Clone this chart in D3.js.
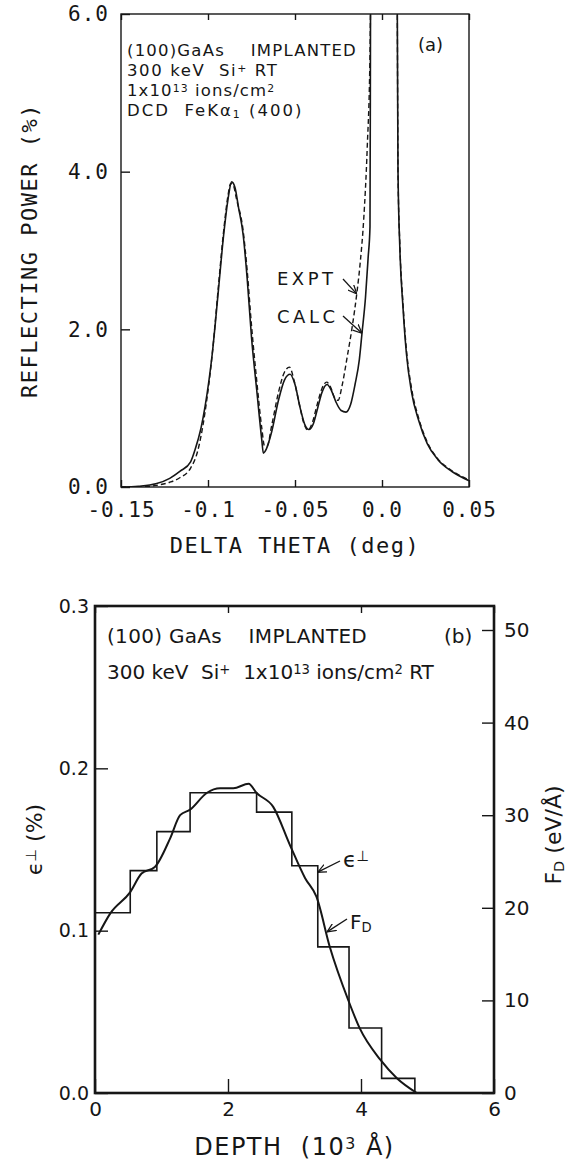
<!DOCTYPE html>
<html>
<head>
<meta charset="utf-8">
<script src="https://cdn.jsdelivr.net/npm/d3@7"></script>
<style>
  body { margin: 0; background: #fff; }
  text { white-space: pre; }
</style>
</head>
<body>
<div id="chart"></div>
<script>
// ---- panel (a): rocking curves, reflecting power (%) vs delta theta (deg)
const thetaCalc = [-0.15, -0.14, -0.13, -0.122, -0.116, -0.11, -0.1075, -0.104, -0.1017, -0.0975,
  -0.094, -0.091, -0.0885, -0.0864, -0.0845, -0.0825, -0.0798, -0.0775, -0.075, -0.072,
  -0.0691, -0.0682, -0.0665, -0.0634, -0.0595, -0.056, -0.0528, -0.05, -0.047, -0.0445,
  -0.042, -0.0395, -0.037, -0.0345, -0.0316, -0.029, -0.0265, -0.0235, -0.0207, -0.018,
  -0.0155, -0.013, -0.0115, -0.0095, -0.008, -0.0069, -0.0066, -0.005, -0.002, 0.001,
  0.004, 0.007, 0.0088, 0.0092, 0.0103, 0.012, 0.014, 0.017, 0.021, 0.026, 0.032, 0.04, 0.05];
const reflCalc = [0.0, 0.01, 0.04, 0.11, 0.2, 0.32, 0.47, 0.75, 1.02, 1.7,
  2.5, 3.2, 3.65, 3.87, 3.8, 3.55, 3.2, 2.65, 1.9, 1.23,
  0.6, 0.43, 0.48, 0.7, 1.1, 1.36, 1.43, 1.3, 1.0, 0.8,
  0.73, 0.8, 1.0, 1.2, 1.3, 1.22, 1.08, 0.97, 0.95, 1.05,
  1.3, 1.62, 1.95, 2.4, 2.9, 3.3, 6, 15, 32, 40,
  32, 15, 6, 4, 3.0, 2.3, 1.7, 1.2, 0.85, 0.55, 0.35, 0.2, 0.08];

const thetaExpt = [-0.15, -0.14, -0.13, -0.122, -0.116, -0.11, -0.106, -0.1017, -0.0975, -0.094,
  -0.091, -0.0885, -0.087, -0.0855, -0.0836, -0.0798, -0.0775, -0.075, -0.072, -0.0691,
  -0.0675, -0.066, -0.0634, -0.0595, -0.0562, -0.0532, -0.0505, -0.0475, -0.0448, -0.0425,
  -0.04, -0.0372, -0.0345, -0.0318, -0.0292, -0.027, -0.0252, -0.023, -0.02, -0.017,
  -0.0145, -0.0125, -0.0105, -0.0085, -0.0069, -0.006, -0.004, -0.001, 0.001, 0.004,
  0.007, 0.0088, 0.0092, 0.0103, 0.012, 0.014, 0.017, 0.021, 0.026, 0.032, 0.04, 0.05];
const reflExpt = [0.0, 0.0, 0.02, 0.06, 0.12, 0.24, 0.45, 0.95, 1.7, 2.55,
  3.25, 3.7, 3.85, 3.83, 3.65, 3.25, 2.75, 2.05, 1.35, 0.75,
  0.52, 0.52, 0.78, 1.2, 1.45, 1.52, 1.35, 1.05, 0.8, 0.72,
  0.82, 1.05, 1.25, 1.33, 1.25, 1.12, 1.1, 1.28, 1.65, 2.05,
  2.45, 2.85, 3.4, 4.3, 5.5, 8, 20, 36, 40, 32,
  15, 6, 4, 3.05, 2.35, 1.75, 1.25, 0.88, 0.57, 0.36, 0.21, 0.09];

const xTicksA = [-0.15, -0.1, -0.05, 0.0, 0.05];
const xTickLabelsA = ["-0.15", "-0.1", "-0.05", "0.0", "0.05"];
const yTicksA = [0, 2, 4, 6];

// ---- panel (b): strain step profile and damage energy vs depth
const stepEdges = [0, 0.53, 0.93, 1.43, 2.43, 2.96, 3.35, 3.82, 4.31, 4.81];
const strainLevels = [0.111, 0.137, 0.161, 0.185, 0.173, 0.140, 0.090, 0.040, 0.009];

const fdDepth = [0.05, 0.23, 0.53, 0.70, 0.90, 1.13, 1.28, 1.43, 1.68, 1.88,
  2.08, 2.31, 2.43, 2.68, 2.93, 3.16, 3.33, 3.53, 3.81, 3.98, 4.29, 4.54, 4.84];
const fdValues = [17.1, 19.4, 21.7, 23.7, 24.4, 27.5, 30.0, 30.6, 32.4, 32.9,
  32.9, 33.4, 32.4, 30.9, 26.8, 23.2, 21.2, 15.8, 10.0, 7.0, 3.6, 1.6, 0.0];

const xTicksB = [0, 2, 4, 6];
const yTicksB = [0, 0.1, 0.2, 0.3];
const yTicksBRight = [0, 10, 20, 30, 40, 50];

const INK = "#161616";
const MONO = "'DejaVu Sans Mono', monospace";
const SANS = "'DejaVu Sans', sans-serif";

const svg = d3.select("#chart").append("svg")
    .attr("width", 574)
    .attr("height", 1160)
    .style("background", "#fff");

svg.append("defs").append("marker")
    .attr("id", "arrow")
    .attr("viewBox", "0 0 10 10")
    .attr("refX", 10)
    .attr("refY", 5)
    .attr("markerWidth", 9)
    .attr("markerHeight", 9)
    .attr("markerUnits", "userSpaceOnUse")
    .attr("orient", "auto")
  .append("path")
    .attr("d", "M0,0.5 L10,5 L0,9.5")
    .attr("fill", "none")
    .attr("stroke", INK)
    .attr("stroke-width", 1.4);

function tidyAxis(g, family, size, spacing) {
    g.select(".domain").remove();
    g.attr("font-family", family).attr("font-size", size).attr("color", INK);
    g.selectAll(".tick line").attr("stroke-width", 1.4);
    if (spacing) g.selectAll("text").style("letter-spacing", `${spacing}px`);
}

// text with super/subscript pieces: parts = [[str, "sup"|"sub"|undefined], ...]
function richText(g, x, y, parts, family, size, opts = {}) {
    const t = g.append("text")
        .attr("x", x).attr("y", y)
        .attr("font-family", family)
        .attr("font-size", size)
        .attr("fill", INK)
        .attr("text-anchor", opts.anchor || "start");
    if (opts.rotate) t.attr("transform", `rotate(${opts.rotate}, ${x}, ${y})`);
    if (opts.spacing) t.style("letter-spacing", `${opts.spacing}px`);
    parts.forEach(([s, kind]) => {
        const ts = t.append("tspan").text(s);
        if (kind === "sup") ts.attr("baseline-shift", "40%").attr("font-size", size * 0.66);
        if (kind === "sub") ts.attr("baseline-shift", "-22%").attr("font-size", size * 0.66);
    });
    return t;
}

// ================= panel (a) =================
const xA = d3.scaleLinear().domain([-0.15, 0.05]).range([121, 469]);
const yA = d3.scaleLinear().domain([0, 6]).range([487, 14]);
const gA = svg.append("g");

gA.append("clipPath").attr("id", "clipA")
  .append("rect")
    .attr("x", xA(-0.15)).attr("y", yA(6))
    .attr("width", xA(0.05) - xA(-0.15))
    .attr("height", yA(0) - yA(6));

const lineA = d3.line()
    .x(d => xA(d[0]))
    .y(d => yA(d[1]))
    .curve(d3.curveMonotoneX);

const curves = gA.append("g").attr("clip-path", "url(#clipA)");
curves.append("path")
    .datum(d3.zip(thetaCalc, reflCalc))
    .attr("d", lineA)
    .attr("fill", "none")
    .attr("stroke", INK)
    .attr("stroke-width", 1.6);
curves.append("path")
    .datum(d3.zip(thetaExpt, reflExpt))
    .attr("d", lineA)
    .attr("fill", "none")
    .attr("stroke", INK)
    .attr("stroke-width", 1.4)
    .attr("stroke-dasharray", "5,3");

gA.append("g")
    .attr("transform", `translate(0, ${yA(0)})`)
    .call(d3.axisBottom(xA).tickValues(xTicksA)
        .tickFormat((d, i) => xTickLabelsA[i])
        .tickSize(-7).tickPadding(15))
    .call(g => tidyAxis(g, MONO, 21, 1));

gA.append("g")
    .attr("transform", `translate(0, ${yA(6)})`)
    .call(d3.axisTop(xA).tickValues(xTicksA).tickFormat("").tickSize(-6))
    .call(g => tidyAxis(g, MONO, 21));

gA.append("g")
    .attr("transform", `translate(${xA(-0.15)}, 0)`)
    .call(d3.axisLeft(yA).tickValues(yTicksA)
        .tickFormat(d3.format(".1f"))
        .tickSize(-9).tickPadding(12))
    .call(g => tidyAxis(g, MONO, 21, 1));

gA.append("rect")
    .attr("x", xA(-0.15)).attr("y", yA(6))
    .attr("width", xA(0.05) - xA(-0.15))
    .attr("height", yA(0) - yA(6))
    .attr("fill", "none")
    .attr("stroke", INK)
    .attr("stroke-width", 1.4);

gA.append("text")
    .attr("transform", `translate(37, ${(yA(0) + yA(6)) / 2}) rotate(-90)`)
    .attr("text-anchor", "middle")
    .attr("font-family", MONO)
    .attr("font-size", 22)
    .style("letter-spacing", "1.5px")
    .attr("fill", INK)
    .text("REFLECTING POWER (%)");

gA.append("text")
    .attr("x", (xA(-0.15) + xA(0.05)) / 2)
    .attr("y", 553)
    .attr("text-anchor", "middle")
    .attr("font-family", MONO)
    .attr("font-size", 22)
    .style("letter-spacing", "1.5px")
    .attr("fill", INK)
    .text("DELTA THETA (deg)");

richText(gA, 127, 56, [["(100)GaAs    IMPLANTED"]], SANS, 16.5, { spacing: 1.2 });
richText(gA, 127, 76, [["300 keV  Si"], ["+", "sup"], [" RT"]], SANS, 16.5, { spacing: 1.6 });
richText(gA, 127, 96, [["1x10"], ["13", "sup"], [" ions/cm"], ["2", "sup"]], SANS, 16.5, { spacing: 1.1 });
richText(gA, 127, 116, [["DCD  FeK\u03b1"], ["1", "sub"], [" (400)"]], SANS, 16.5, { spacing: 2 });
richText(gA, 418, 51, [["(a)"]], SANS, 18);

richText(gA, 277, 285, [["EXPT"]], SANS, 18, { spacing: 3.5 });
richText(gA, 277, 323, [["CALC"]], SANS, 18, { spacing: 3.5 });

gA.append("line")
    .attr("x1", 343).attr("y1", 279)
    .attr("x2", xA(-0.0145)).attr("y2", yA(2.45))
    .attr("stroke", INK).attr("stroke-width", 1.3)
    .attr("marker-end", "url(#arrow)");
gA.append("line")
    .attr("x1", 343).attr("y1", 316)
    .attr("x2", xA(-0.0115)).attr("y2", yA(1.95))
    .attr("stroke", INK).attr("stroke-width", 1.3)
    .attr("marker-end", "url(#arrow)");

// ================= panel (b) =================
const xB = d3.scaleLinear().domain([0, 6]).range([95, 494]);
const yB = d3.scaleLinear().domain([0, 0.3]).range([1093, 606]);
const yBR = d3.scaleLinear().domain([0, 50]).range([1093, 630]);
const gB = svg.append("g");

const stepPts = stepEdges.map((d, i) => [d, i < strainLevels.length ? strainLevels[i] : 0]);
gB.append("path")
    .datum(stepPts)
    .attr("d", d3.line().x(d => xB(d[0])).y(d => yB(d[1])).curve(d3.curveStepAfter))
    .attr("fill", "none")
    .attr("stroke", INK)
    .attr("stroke-width", 1.6);

gB.append("path")
    .datum(d3.zip(fdDepth, fdValues))
    .attr("d", d3.line().x(d => xB(d[0])).y(d => yBR(d[1])).curve(d3.curveMonotoneX))
    .attr("fill", "none")
    .attr("stroke", INK)
    .attr("stroke-width", 2);

gB.append("g")
    .attr("transform", `translate(0, ${yB(0)})`)
    .call(d3.axisBottom(xB).tickValues(xTicksB).tickFormat(d3.format("d"))
        .tickSize(-14).tickPadding(9))
    .call(g => tidyAxis(g, SANS, 20));

gB.append("g")
    .attr("transform", `translate(0, ${yB(0.3)})`)
    .call(d3.axisTop(xB).tickValues(xTicksB).tickFormat("").tickSize(-7))
    .call(g => tidyAxis(g, SANS, 20));

gB.append("g")
    .attr("transform", `translate(${xB(0)}, 0)`)
    .call(d3.axisLeft(yB).tickValues(yTicksB).tickFormat(d3.format(".1f"))
        .tickSize(-13).tickPadding(6))
    .call(g => tidyAxis(g, SANS, 19));

gB.append("g")
    .attr("transform", `translate(${xB(6)}, 0)`)
    .call(d3.axisRight(yBR).tickValues(yTicksBRight).tickFormat(d3.format("d"))
        .tickSize(-12).tickPadding(10))
    .call(g => tidyAxis(g, SANS, 20));

gB.append("rect")
    .attr("x", xB(0)).attr("y", yB(0.3))
    .attr("width", xB(6) - xB(0))
    .attr("height", yB(0) - yB(0.3))
    .attr("fill", "none")
    .attr("stroke", INK)
    .attr("stroke-width", 2.6);

richText(gB, 107, 643, [["(100) GaAs    IMPLANTED"]], SANS, 20, { spacing: 0.3 });
richText(gB, 107, 679, [["300 keV  Si"], ["+", "sup"], ["  1x10"], ["13", "sup"], [" ions/cm"], ["2", "sup"], [" RT"]], SANS, 20);
richText(gB, 444, 643, [["(b)"]], SANS, 20);

richText(gB, 42, (yB(0) + yB(0.3)) / 2 - 10, [["\u03f5"], ["\u22a5", "sup"], [" (%)"]], SANS, 22,
    { anchor: "middle", rotate: -90 });
richText(gB, 561, 835, [["F"], ["D", "sub"], [" (eV/\u00c5)"]], SANS, 22,
    { anchor: "middle", rotate: -90 });
richText(gB, (xB(0) + xB(6)) / 2, 1155, [["DEPTH  (10"], ["3", "sup"], [" \u00c5)"]], SANS, 24,
    { anchor: "middle", spacing: 1.5 });

richText(gB, 343, 867, [["\u03f5"], ["\u22a5", "sup"]], SANS, 22);
richText(gB, 350, 929, [["F"], ["D", "sub"]], SANS, 20);

gB.append("line")
    .attr("x1", 340).attr("y1", 861)
    .attr("x2", xB(3.35)).attr("y2", yB(0.136))
    .attr("stroke", INK).attr("stroke-width", 1.4)
    .attr("marker-end", "url(#arrow)");
gB.append("line")
    .attr("x1", 347).attr("y1", 919)
    .attr("x2", xB(3.49)).attr("y2", yBR(17.4))
    .attr("stroke", INK).attr("stroke-width", 1.4)
    .attr("marker-end", "url(#arrow)");
</script>
</body>
</html>
